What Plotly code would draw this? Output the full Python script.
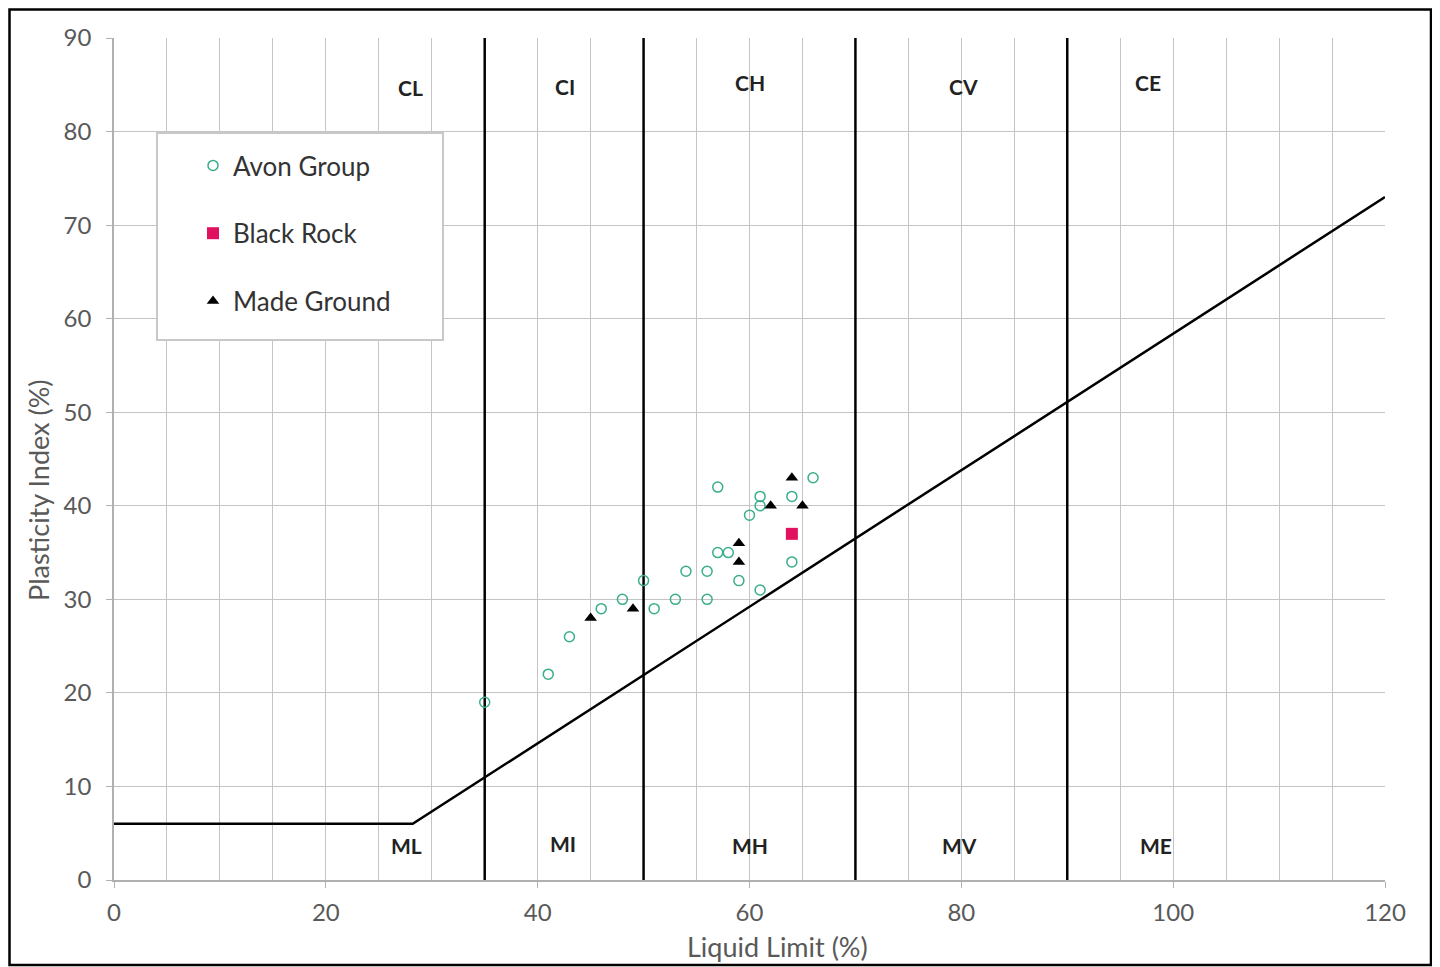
import plotly.graph_objects as go

# ---- data ----
avon_ll = [35, 41, 43, 46, 48, 50, 51, 53, 54, 56, 56, 57, 58, 59, 57, 60, 61, 61, 61, 64, 64, 66]
avon_pi = [19, 22, 26, 29, 30, 32, 29, 30, 33, 30, 33, 35, 35, 32, 42, 39, 40, 41, 31, 34, 41, 43]
black_ll = [64]
black_pi = [37]
made_ll = [45, 49, 59, 59, 62, 64, 65]
made_pi = [28, 29, 34, 36, 40, 43, 40]

aline_ll = [0, 28.2, 120]
aline_pi = [6, 6, 73]
boundary_ll = [35, 50, 70, 90]

zone_upper = ["CL", "CI", "CH", "CV", "CE"]
zone_upper_ll = [28, 42.6, 60, 80.2, 97.6]
zone_upper_pi = [84.7, 84.8, 85.2, 84.8, 85.2]
zone_lower = ["ML", "MI", "MH", "MV", "ME"]
zone_lower_ll = [27.6, 42.4, 60, 79.8, 98.4]
zone_lower_pi = [3.7, 3.9, 3.7, 3.7, 3.7]

x_ticks = [0, 20, 40, 60, 80, 100, 120]
y_ticks = [0, 10, 20, 30, 40, 50, 60, 70, 80, 90]

FONT = "Lato"
fig = go.Figure()

for b in boundary_ll:
    fig.add_trace(go.Scatter(x=[b, b], y=[0, 90], mode="lines",
                             line=dict(color="black", width=2.5),
                             showlegend=False, hoverinfo="skip"))
fig.add_trace(go.Scatter(x=aline_ll, y=aline_pi, mode="lines",
                         line=dict(color="black", width=2.5),
                         showlegend=False, hoverinfo="skip"))

fig.add_trace(go.Scatter(x=avon_ll, y=avon_pi, mode="markers", name="Avon Group",
                         legendgroup="a",
                         marker=dict(symbol="circle-open", size=10,
                                     color="#3aae8c", line=dict(width=1.5))))
fig.add_trace(go.Scatter(x=black_ll, y=black_pi, mode="markers", name="Black Rock",
                         legendgroup="b",
                         marker=dict(symbol="square", size=12, color="#e0115f")))
fig.add_trace(go.Scatter(x=made_ll, y=made_pi, mode="markers", name="Made Ground",
                         legendgroup="c",
                         marker=dict(symbol="triangle-up", size=11, color="black")))

for t, x, y in zip(zone_upper, zone_upper_ll, zone_upper_pi):
    fig.add_annotation(x=x, y=y, text="<b>%s</b>" % t, showarrow=False,
                       font=dict(family=FONT, size=21, color="#222222"))
for t, x, y in zip(zone_lower, zone_lower_ll, zone_lower_pi):
    fig.add_annotation(x=x, y=y, text="<b>%s</b>" % t, showarrow=False,
                       font=dict(family=FONT, size=21, color="#222222"))

# page has an 8px body margin; design in screen pixels and shift
OFF = 8
W, H = 1432, 959
L, T = 114 - OFF, 38 - OFF
R = W - (1385 - OFF)
B = H - (880 - OFF)
pw, ph = W - L - R, H - T - B

def px_x(p):
    return (p - OFF - L) / pw

def px_y(p):
    return (H - B - (p - OFF)) / ph

# axis titles
fig.add_annotation(xref="paper", yref="paper", x=px_x(777), y=px_y(946),
                   text="Liquid Limit (%)", showarrow=False,
                   xanchor="center", yanchor="middle",
                   font=dict(family=FONT, size=27, color="#595959"))
fig.add_annotation(xref="paper", yref="paper", x=px_x(38), y=px_y(490),
                   text="Plasticity Index (%)", showarrow=False, textangle=-90,
                   xanchor="center", yanchor="middle",
                   font=dict(family=FONT, size=27, color="#595959"))

fig.add_shape(type="rect", xref="paper", yref="paper",
              x0=px_x(157), x1=px_x(443), y0=px_y(340), y1=px_y(133),
              line=dict(color="#c8c8c8", width=2), fillcolor="white", layer="above")
fig.add_shape(type="rect", xref="paper", yref="paper",
              x0=px_x(9.5), x1=px_x(1431), y0=px_y(965), y1=px_y(9.5),
              line=dict(color="black", width=2.5), fillcolor="rgba(0,0,0,0)")

fig.update_layout(
    width=W, height=H,
    margin=dict(l=L, r=R, t=T, b=B),
    paper_bgcolor="white", plot_bgcolor="white",
    font=dict(family=FONT, color="#595959"),
    legend=dict(x=px_x(193), y=px_y(142), xanchor="left", yanchor="top",
                bgcolor="rgba(0,0,0,0)", borderwidth=0, tracegroupgap=31,
                font=dict(family=FONT, size=26, color="#333333")),
    xaxis=dict(range=[0, 120], tickvals=x_ticks,
               showgrid=True, gridcolor="#c4c4c4", gridwidth=1.2,
               minor=dict(dtick=5, showgrid=True, gridcolor="#c4c4c4", gridwidth=1.2),
               zeroline=False, showline=True, linecolor="#b0b0b0", linewidth=1.5,
               ticks="outside", ticklen=6, tickcolor="#b0b0b0", ticklabelstandoff=4,
               tickfont=dict(family=FONT, size=24, color="#595959")),
    yaxis=dict(range=[0, 90], tickvals=y_ticks,
               showgrid=True, gridcolor="#c4c4c4", gridwidth=1.2,
               zeroline=False, showline=True, linecolor="#b0b0b0", linewidth=1.5,
               ticks="outside", ticklen=6, tickcolor="#b0b0b0", ticklabelstandoff=10,
               tickfont=dict(family=FONT, size=24, color="#595959")),
)

fig.write_html("out.html")
